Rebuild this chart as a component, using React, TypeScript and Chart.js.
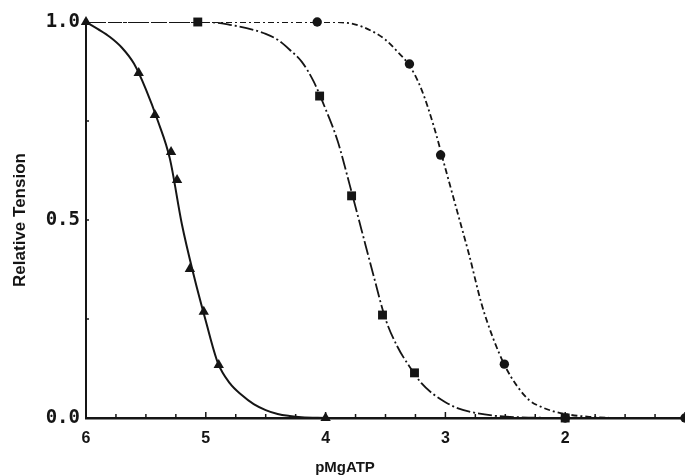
import { useEffect, useRef } from 'react';
import { Chart, registerables } from 'chart.js';

Chart.register(...registerables);

// Measured points (pMgATP, relative tension)
const triPMg = [6.0, 5.56, 5.425, 5.29, 5.24, 5.133, 5.017, 4.892, 4.0];
const triTension = [1.0, 0.871, 0.765, 0.672, 0.601, 0.376, 0.268, 0.134, 0.0];

const sqPMg = [5.067, 4.05, 3.783, 3.525, 3.258, 2.0];
const sqTension = [1.0, 0.813, 0.561, 0.26, 0.114, 0.0];

const circPMg = [4.07, 3.3, 3.04, 2.508, 2.0, 1.0];
const circTension = [1.0, 0.894, 0.664, 0.136, 0.0, 0.0];

// Fitted curves
const triCurveX = [6.0, 5.9, 5.8, 5.7, 5.6, 5.5, 5.4, 5.3, 5.2, 5.1, 5.0, 4.9, 4.8, 4.7, 4.6, 4.5, 4.4, 4.3, 4.2, 4.0];
const triCurveY = [1.0, 0.982, 0.962, 0.935, 0.895, 0.83, 0.75, 0.655, 0.49, 0.36, 0.245, 0.14, 0.088, 0.058, 0.035, 0.02, 0.01, 0.005, 0.002, 0.0];

const sqCurveX = [6.0, 5.0, 4.8, 4.6, 4.5, 4.4, 4.3, 4.2, 4.1, 4.0, 3.9, 3.8, 3.7, 3.6, 3.5, 3.4, 3.3, 3.2, 3.1, 3.0, 2.9, 2.8, 2.6, 2.4, 2.0];
const sqCurveY = [1.0, 1.0, 0.993, 0.98, 0.97, 0.955, 0.93, 0.9, 0.85, 0.78, 0.7, 0.59, 0.475, 0.36, 0.25, 0.18, 0.13, 0.088, 0.06, 0.04, 0.025, 0.016, 0.006, 0.002, 0.0];

const circCurveX = [6.0, 4.0, 3.8, 3.6, 3.5, 3.4, 3.3, 3.2, 3.1, 3.0, 2.9, 2.8, 2.7, 2.6, 2.5, 2.4, 2.3, 2.2, 2.1, 2.0, 1.8, 1.5, 1.0];
const circCurveY = [1.0, 1.0, 0.997, 0.975, 0.955, 0.925, 0.89, 0.83, 0.74, 0.63, 0.52, 0.41, 0.29, 0.2, 0.13, 0.08, 0.045, 0.028, 0.017, 0.01, 0.003, 0.0, 0.0];

const xMajorLabels = [6, 5, 4, 3, 2];
const yMajorLabels = [0, 0.5, 1.0];

const INK = '#151515';

const zip = (xs: number[], ys: number[]) => xs.map((x, i) => ({ x, y: ys[i] }));

const innerTicks = {
  id: 'innerTicks',
  afterDraw(chart: any) {
    const { ctx, chartArea, scales } = chart;
    ctx.save();
    ctx.strokeStyle = INK;
    ctx.lineWidth = 1.5;
    scales.x.ticks.forEach((t: any) => {
      const px = scales.x.getPixelForValue(t.value);
      const len = Number.isInteger(t.value) ? 6 : 4;
      ctx.beginPath();
      ctx.moveTo(px, chartArea.bottom);
      ctx.lineTo(px, chartArea.bottom - len);
      ctx.stroke();
    });
    scales.y.ticks.forEach((t: any) => {
      const py = scales.y.getPixelForValue(t.value);
      ctx.beginPath();
      ctx.moveTo(chartArea.left, py);
      ctx.lineTo(chartArea.left + 3, py);
      ctx.stroke();
    });
    ctx.restore();
  },
};

export default function App() {
  const ref = useRef<HTMLCanvasElement | null>(null);

  useEffect(() => {
    if (!ref.current) return;
    const chart = new Chart(ref.current, {
      type: 'scatter',
      data: {
        datasets: [
          {
            type: 'line',
            data: zip(triCurveX, triCurveY),
            borderColor: INK,
            borderWidth: 2,
            pointRadius: 0,
            cubicInterpolationMode: 'monotone',
            fill: false,
          },
          {
            type: 'line',
            data: zip(sqCurveX, sqCurveY),
            borderColor: INK,
            borderWidth: 1.8,
            borderDash: [14, 3, 2, 3],
            pointRadius: 0,
            cubicInterpolationMode: 'monotone',
            fill: false,
          },
          {
            type: 'line',
            data: zip(circCurveX, circCurveY),
            borderColor: INK,
            borderWidth: 1.8,
            borderDash: [6, 3, 2, 3],
            pointRadius: 0,
            cubicInterpolationMode: 'monotone',
            fill: false,
          },
          {
            data: zip(triPMg, triTension),
            pointStyle: 'triangle',
            pointRadius: 6,
            backgroundColor: INK,
            borderColor: INK,
            borderWidth: 0,
            clip: false,
          },
          {
            data: zip(circPMg, circTension),
            pointStyle: 'circle',
            pointRadius: 4.7,
            backgroundColor: INK,
            borderColor: INK,
            borderWidth: 0,
            clip: false,
          },
          {
            data: zip(sqPMg, sqTension),
            pointStyle: 'rect',
            pointRadius: 6.3,
            backgroundColor: INK,
            borderColor: INK,
            borderWidth: 0,
            clip: false,
          },
        ] as any,
      },
      options: {
        animation: false,
        responsive: true,
        maintainAspectRatio: false,
        layout: { padding: { top: 22, right: 0, left: 0, bottom: 0 }, autoPadding: false },
        plugins: { legend: { display: false }, tooltip: { enabled: false } },
        scales: {
          x: {
            type: 'linear',
            min: 1,
            max: 6,
            reverse: true,
            grid: { display: false, drawTicks: false, tickLength: 0 },
            border: { display: true, color: INK, width: 2.5 },
            afterFit: (s: any) => {
              s.height = 58;
              s.paddingLeft = 0;
              s.paddingRight = 0;
            },
            ticks: {
              stepSize: 0.25,
              autoSkip: false,
              maxRotation: 0,
              padding: 11,
              color: INK,
              font: { family: 'Liberation Sans', weight: 'bold', size: 16 },
              callback: (v: any) => (xMajorLabels.includes(Number(v)) ? String(v) : ''),
            },
          },
          y: {
            type: 'linear',
            min: 0,
            max: 1,
            grid: { display: false, drawTicks: false, tickLength: 0 },
            border: { display: true, color: INK, width: 2 },
            afterFit: (s: any) => {
              s.width = 86;
              s.paddingTop = 0;
              s.paddingBottom = 0;
            },
            title: {
              display: true,
              text: 'Relative Tension',
              color: INK,
              font: { family: 'Liberation Sans', weight: 'bold', size: 17 },
              padding: { top: 10, bottom: 0 },
            },
            ticks: {
              stepSize: 0.25,
              autoSkip: false,
              padding: 6,
              color: INK,
              font: { family: 'DejaVu Sans Mono', weight: 'bold', size: 19 },
              callback: (v: any) => (yMajorLabels.includes(Number(v)) ? Number(v).toFixed(1) : ''),
            },
          },
        },
      },
      plugins: [innerTicks],
    });
    return () => chart.destroy();
  }, []);

  return (
    <div style={{ position: 'absolute', left: 0, top: 0, width: 685, height: 476, background: '#fff', overflow: 'hidden' }}>
      <canvas ref={ref} />
      <div
        style={{
          position: 'absolute',
          left: 345,
          top: 466,
          transform: 'translate(-50%, -50%)',
          fontFamily: 'Liberation Sans, Arial, sans-serif',
          fontWeight: 'bold',
          fontSize: 15,
          color: INK,
          whiteSpace: 'nowrap',
        }}
      >
        pMgATP
      </div>
    </div>
  );
}
